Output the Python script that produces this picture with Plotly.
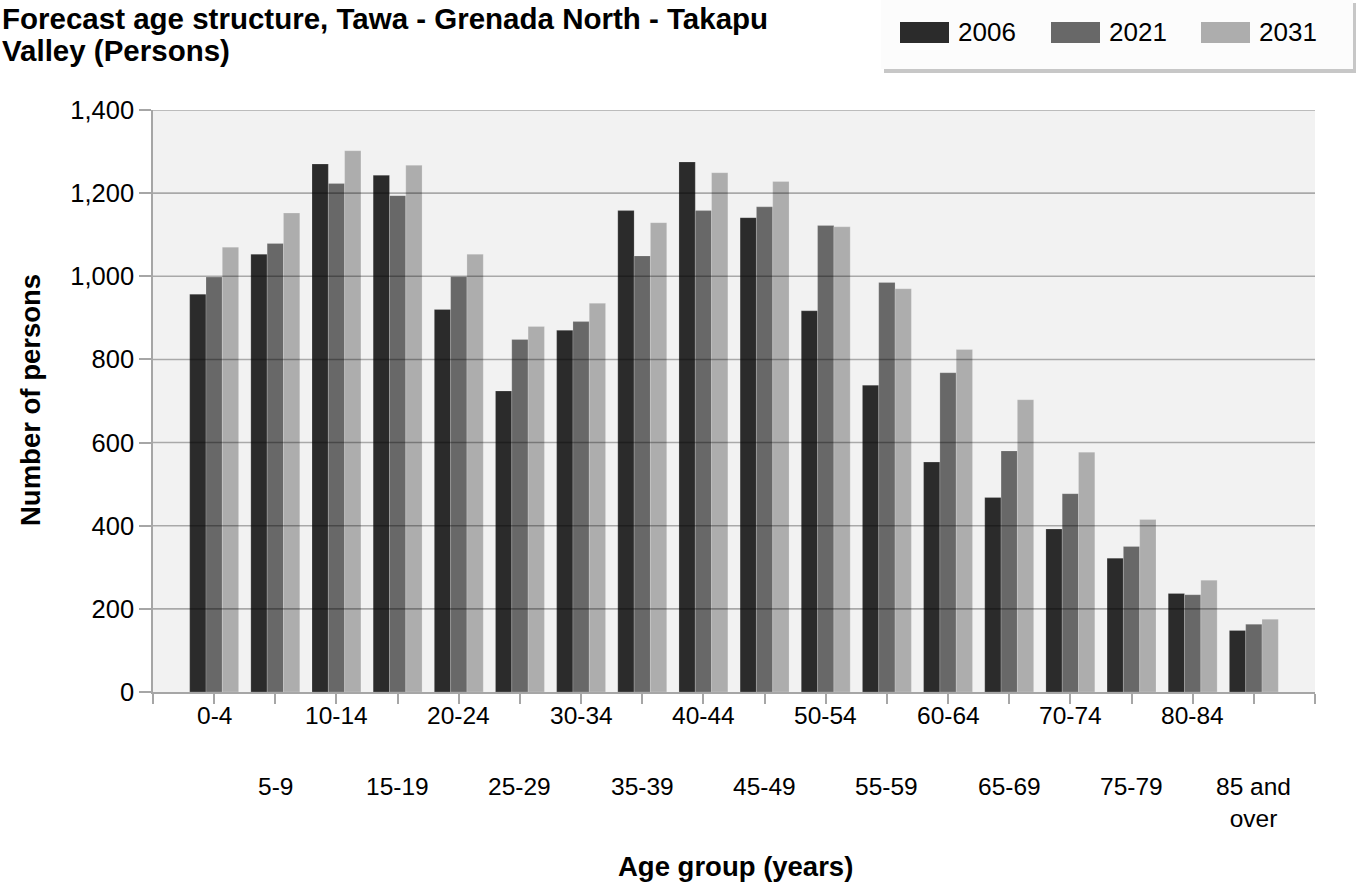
import plotly.graph_objects as go

# Age groups and forecast population counts (persons)
age_groups = ["0-4", "5-9", "10-14", "15-19", "20-24", "25-29", "30-34", "35-39",
              "40-44", "45-49", "50-54", "55-59", "60-64", "65-69", "70-74",
              "75-79", "80-84", "85 and<br>over"]
years = ["2006", "2021", "2031"]
persons_2006 = [957, 1053, 1270, 1243, 920, 724, 870, 1158, 1275, 1141,
                917, 738, 553, 468, 392, 322, 237, 148]
persons_2021 = [998, 1079, 1223, 1194, 999, 848, 891, 1049, 1158, 1167,
                1122, 985, 768, 580, 477, 350, 234, 163]
persons_2031 = [1070, 1152, 1302, 1267, 1053, 879, 935, 1129, 1249, 1228,
                1119, 970, 824, 703, 577, 415, 269, 175]
y_ticks = [0, 200, 400, 600, 800, 1000, 1200, 1400]

title_lines = ["Forecast age structure, Tawa - Grenada North - Takapu",
               "Valley (Persons)"]
x_title = "Age group (years)"
y_title = "Number of persons"

colors = ["#2b2b2b", "#686868", "#adadad"]
FONT = "Liberation Sans, Arial, sans-serif"

W, H = 1356, 886
L, R, T, B = 153, 1315, 110, 692  # plot area in pixels


def px(x):
    return (x - L) / (R - L)


def py(y):
    return (B - y) / (B - T)


xs = list(range(len(age_groups)))
fig = go.Figure()
for name, vals, col in zip(years, [persons_2006, persons_2021, persons_2031], colors):
    fig.add_trace(go.Bar(
        x=xs, y=vals, name=name, marker=dict(color=col,
                                             line=dict(color="rgba(255,255,255,0.18)", width=1)),
        showlegend=False,
    ))

shapes = []
# horizontal grid drawn over the bars
for v in y_ticks[1:]:
    shapes.append(dict(type="line", xref="paper", yref="y", x0=0, x1=1, y0=v, y1=v,
                       line=dict(color="rgba(0,0,0,0.3)", width=1.6), layer="above"))

# legend box with drop shadow
shapes.append(dict(type="rect", xref="paper", yref="paper",
                   x0=px(884), x1=px(1356), y0=py(73), y1=py(3),
                   fillcolor="rgba(0,0,0,0.22)", line=dict(width=0), layer="above"))
shapes.append(dict(type="rect", xref="paper", yref="paper",
                   x0=px(881), x1=px(1353), y0=py(69), y1=py(-2),
                   fillcolor="#fcfcfc", line=dict(width=0), layer="above"))

annotations = []
swatch_x = [900, 1051, 1201]
for name, col, sx in zip(years, colors, swatch_x):
    shapes.append(dict(type="rect", xref="paper", yref="paper",
                       x0=px(sx), x1=px(sx + 49), y0=py(43), y1=py(22),
                       fillcolor=col, line=dict(width=0), layer="above"))
    annotations.append(dict(text=name, xref="paper", yref="paper", x=px(sx + 56), y=py(32),
                            xanchor="left", yanchor="middle", showarrow=False,
                            font=dict(family=FONT, size=26, color="#000")))

# title
for i, line in enumerate(title_lines):
    annotations.append(dict(text="<b>%s</b>" % line, xref="paper", yref="paper",
                            x=px(0), y=py(19 + 32 * i), xanchor="left", yanchor="middle",
                            showarrow=False, font=dict(family=FONT, size=29.5, color="#000")))

# category labels in two staggered rows
for i, lab in enumerate(age_groups):
    top = 700 if i % 2 == 0 else 771
    annotations.append(dict(text=lab, xref="x", yref="paper", x=i, y=py(top),
                            xanchor="center", yanchor="top", showarrow=False,
                            font=dict(family=FONT, size=24.5, color="#000")))

# axis titles
annotations.append(dict(text="<b>%s</b>" % x_title, xref="paper", yref="paper",
                        x=px(735), y=py(866), xanchor="center", yanchor="middle",
                        showarrow=False, font=dict(family=FONT, size=27.5, color="#000")))
annotations.append(dict(text="<b>%s</b>" % y_title, xref="paper", yref="paper",
                        x=px(30), y=py(400), xanchor="center", yanchor="middle",
                        textangle=-90, showarrow=False,
                        font=dict(family=FONT, size=27.5, color="#000")))

fig.update_layout(
    width=W, height=H,
    margin=dict(l=L, r=W - R, t=T, b=H - B),
    paper_bgcolor="white", plot_bgcolor="#f2f2f2",
    barmode="group", bargap=0.2, bargroupgap=0,
    font=dict(family=FONT, size=24, color="#000"),
    shapes=shapes, annotations=annotations,
    xaxis=dict(range=[-1, len(age_groups)], tickmode="array",
               tickvals=list(range(-1, len(age_groups) + 1)),
               showticklabels=False, ticks="outside", ticklen=10, tickwidth=1.5,
               tickcolor="#a6a6a6", showline=True, linecolor="#a6a6a6", linewidth=1.5,
               showgrid=False, zeroline=False, fixedrange=True),
    yaxis=dict(range=[0, 1400], tickmode="array", tickvals=y_ticks, tickformat=",",
               ticks="outside", ticklen=12, tickwidth=1.5, tickcolor="#a6a6a6",
               showline=True, linecolor="#a6a6a6", linewidth=1.5,
               showgrid=False, zeroline=False,
               tickfont=dict(family=FONT, size=25.5, color="#000"), fixedrange=True),
)

fig.write_html("out.html")
